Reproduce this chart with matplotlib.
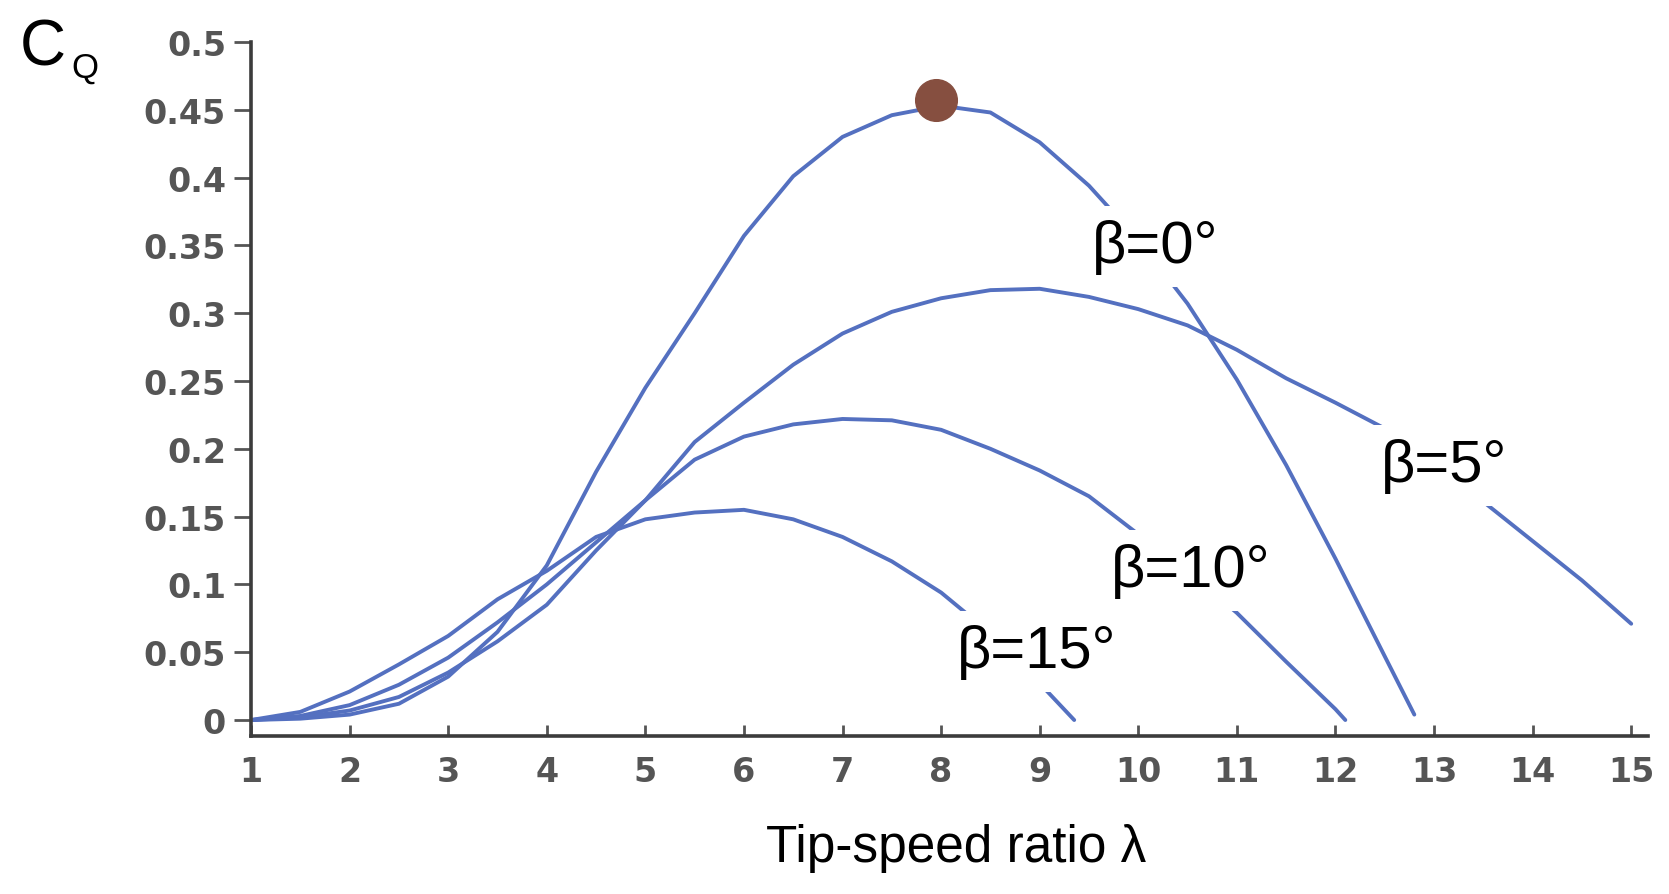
import numpy as np
import matplotlib
matplotlib.use("Agg")
from matplotlib import pyplot as plt

# values
tsr_b0 = [1, 1.5, 2, 2.5, 3, 3.5, 4, 4.5, 5, 5.5, 6, 6.5, 7, 7.5, 8, 8.5, 9, 9.5, 10, 10.5, 11, 11.5, 12, 12.5, 12.8]
cq_b0 = [0, 0.001, 0.004, 0.012, 0.032, 0.065, 0.114, 0.183, 0.245, 0.300, 0.357, 0.401, 0.430, 0.446, 0.453, 0.448, 0.426, 0.394, 0.354, 0.307, 0.251, 0.188, 0.119, 0.047, 0.004]

tsr_b5 = [1, 1.5, 2, 2.5, 3, 3.5, 4, 4.5, 5, 5.5, 6, 6.5, 7, 7.5, 8, 8.5, 9, 9.5, 10, 10.5, 11, 11.5, 12, 12.5, 13, 13.5, 14, 14.5, 15]
cq_b5 = [0, 0.002, 0.007, 0.017, 0.035, 0.058, 0.085, 0.125, 0.162, 0.205, 0.234, 0.262, 0.285, 0.301, 0.311, 0.317, 0.318, 0.312, 0.303, 0.291, 0.273, 0.252, 0.234, 0.215, 0.189, 0.161, 0.132, 0.103, 0.071]

tsr_b10 = [1, 1.5, 2, 2.5, 3, 3.5, 4, 4.5, 5, 5.5, 6, 6.5, 7, 7.5, 8, 8.5, 9, 9.5, 10, 10.5, 11, 11.5, 12, 12.1]
cq_b10 = [0, 0.003, 0.011, 0.026, 0.046, 0.072, 0.100, 0.131, 0.162, 0.192, 0.209, 0.218, 0.222, 0.221, 0.214, 0.200, 0.184, 0.165, 0.137, 0.110, 0.079, 0.043, 0.008, 0.0]

tsr_b15 = [1, 1.5, 2, 2.5, 3, 3.5, 4, 4.5, 5, 5.5, 6, 6.5, 7, 7.5, 8, 8.5, 9, 9.35]
cq_b15 = [0, 0.006, 0.021, 0.041, 0.062, 0.089, 0.110, 0.135, 0.148, 0.153, 0.155, 0.148, 0.135, 0.117, 0.094, 0.064, 0.027, 0.0]

opt_tsr, opt_cq = 7.95, 0.457

labels = ["β=0°", "β=5°", "β=10°", "β=15°"]
label_x = [9.53, 12.46, 9.72, 8.16]
label_y = [0.338, 0.176, 0.099, 0.039]

xticks = list(range(1, 16))
yticks = [0, 0.05, 0.1, 0.15, 0.2, 0.25, 0.3, 0.35, 0.4, 0.45, 0.5]
ytick_labels = ["0", "0.05", "0.1", "0.15", "0.2", "0.25", "0.3", "0.35", "0.4", "0.45", "0.5"]

line_col = "#5470c0"
axis_col = "#3c3c3c"
tick_col = "#555555"

fig = plt.figure(figsize=(16.69, 8.95), dpi=100)
ax = fig.add_axes([0.1504, 0.1765, 0.837, 0.7755])

for xs, ys in [(tsr_b0, cq_b0), (tsr_b5, cq_b5), (tsr_b10, cq_b10), (tsr_b15, cq_b15)]:
    ax.plot(xs, ys, color=line_col, lw=2.8, zorder=2, solid_capstyle="round",
            solid_joinstyle="round")

ax.plot([opt_tsr], [opt_cq], "o", color="#864f40", markersize=30, zorder=5)

for txt, lx, ly in zip(labels, label_x, label_y):
    ax.text(lx, ly, txt, ha="left", va="baseline", fontsize=43,
            family=["Liberation Sans", "DejaVu Sans"], color="black", zorder=4,
            bbox=dict(boxstyle="square,pad=0.22", fc="white", ec="none"))

ax.set_xlim(1, 15.17)
ax.set_ylim(-0.0118, 0.5)

for s in ["top", "right"]:
    ax.spines[s].set_visible(False)
for s in ["left", "bottom"]:
    ax.spines[s].set_color(axis_col)
    ax.spines[s].set_linewidth(2.6)

ax.set_xticks(xticks)
ax.set_xticklabels([str(t) for t in xticks])
ax.set_yticks(yticks)
ax.set_yticklabels(ytick_labels)
ax.tick_params(axis="x", direction="in", length=8, width=2, color=tick_col, pad=14,
               labelsize=24, labelcolor=tick_col)
ax.tick_params(axis="y", direction="out", length=12, width=2, color=tick_col, pad=6,
               labelsize=24, labelcolor=tick_col)
for lab in ax.get_xticklabels() + ax.get_yticklabels():
    lab.set_fontweight("bold")

# axis titles
fig.text(0.0120, 0.927, "C", fontsize=46, family="Liberation Sans", va="baseline")
fig.text(0.0425, 0.913, "Q", fontsize=25, family="Liberation Sans", va="baseline")
fig.text(0.573, 0.037, "Tip-speed ratio λ", fontsize=37, family="Liberation Sans",
         ha="center", va="baseline")

fig.savefig("out.png", dpi=100, facecolor="white")
